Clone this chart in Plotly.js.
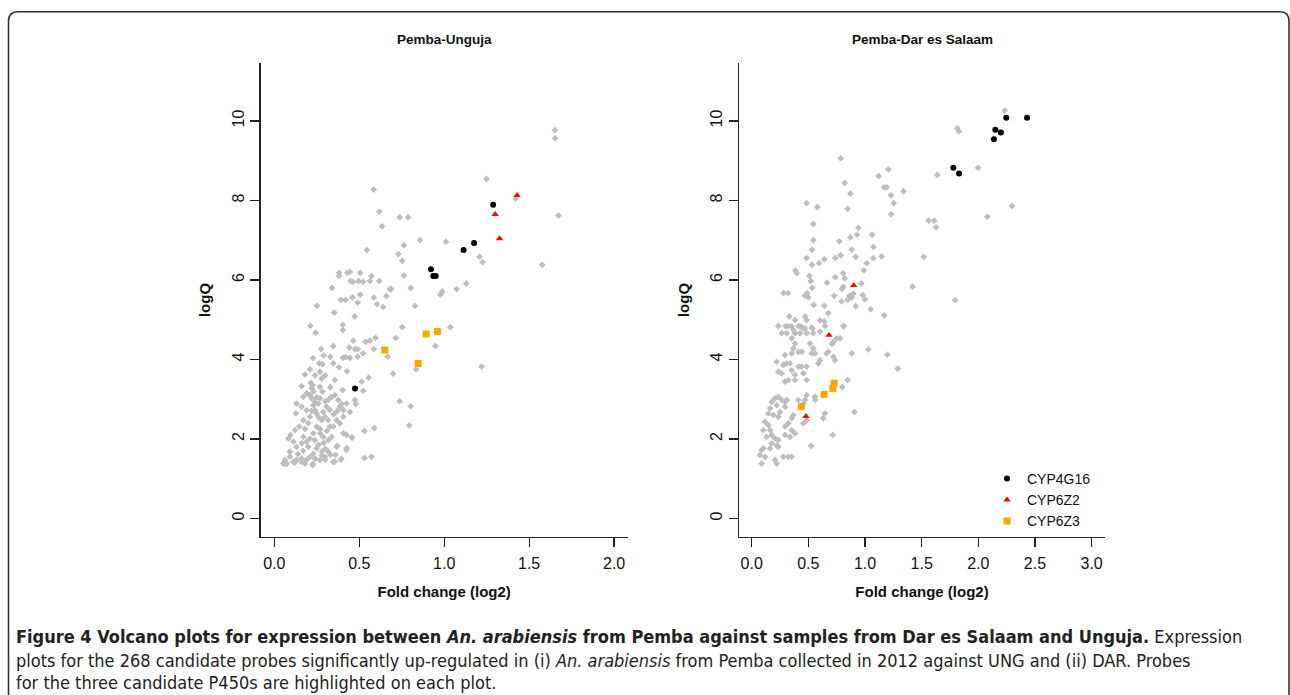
<!DOCTYPE html>
<html><head><meta charset="utf-8">
<script src="https://cdn.plot.ly/plotly-3.0.1.min.js"></script>
<style>html,body{margin:0;padding:0;background:#fff;}#chart{width:1290px;height:695px;}</style>
</head><body><div id="chart"></div>
<script>
// ---------- Panel 1: Pemba-Unguja ----------
const unguGrayX = [1.651,1.653,1.249,0.585,0.618,0.634,0.738,0.787,1.673,0.857,1.010,1.420,0.545,0.730,0.763,0.753,1.208,1.226,1.577,0.763,
0.381,0.381,0.430,0.445,0.506,0.572,0.449,0.463,0.496,0.522,0.563,0.618,0.339,0.803,0.681,0.688,1.073,1.130,0.989,0.977,
0.506,0.461,0.586,0.659,0.393,0.420,0.491,0.605,0.641,0.828,0.251,0.353,0.473,
0.212,0.243,0.404,0.404,0.753,1.036,0.948,0.714,0.596,0.563,0.537,0.465,0.347,0.442,0.475,0.491,0.275,0.586,0.667,0.330,0.228,0.404,0.420,0.491,0.523,
0.835,0.699,1.220,0.428,0.555,0.514,0.524,0.738,0.802,0.794,0.588,0.531,0.572,0.531,0.459,0.426,0.371,0.356,0.395,0.226,0.065,
0.265,0.284,0.347,0.445,0.269,0.279,0.357,0.180,0.161,
0.214,0.226,0.220,0.230,0.210,0.220,0.239,0.230,0.239,0.249,
0.269,0.284,0.269,0.259,0.318,0.337,0.357,0.376,0.396,0.386,0.406,0.425,0.445,0.475,0.480,0.402,
0.131,0.127,0.171,0.161,0.190,0.210,0.171,0.147,0.122,0.096,0.083,0.112,0.131,0.092,0.063,0.053,
0.279,0.298,0.318,0.327,0.249,0.269,0.230,0.210,0.171,0.161,0.190,0.239,0.288,0.318,0.337,
0.367,0.406,0.425,0.455,0.249,0.279,0.230,0.210,0.190,0.161,0.131,0.112,0.092,0.073,
0.298,0.269,0.318,0.226,0.347,0.392,0.425,0.367,0.386,0.406,0.347,0.327,0.308,0.288,
0.140,0.170,0.200,0.260,0.290,0.310,0.350,0.370,0.300,0.330,0.250,0.200,0.180,0.270,0.300,0.330,0.120,0.160,0.180,0.240,0.280,0.300,0.360,0.220,0.260,0.190,0.240,0.210,0.300,0.380,0.290];
const unguGrayY = [9.77,9.56,8.54,8.27,7.72,7.35,7.58,7.58,7.62,7.00,6.96,8.05,6.75,6.65,6.87,6.48,6.58,6.45,6.38,6.11,
6.18,6.10,6.18,6.20,6.18,6.10,5.97,5.95,5.97,5.95,5.97,5.97,5.80,5.80,5.77,5.77,5.77,5.91,5.71,5.63,
5.63,5.56,5.56,5.59,5.50,5.50,5.43,5.39,5.32,5.35,5.35,5.18,5.08,
4.85,4.67,4.87,4.74,4.81,4.81,4.34,4.54,4.54,4.47,4.44,4.47,4.34,4.30,4.26,4.26,4.26,4.26,4.07,4.07,4.03,4.04,4.06,4.07,4.15,
3.75,3.64,3.82,3.70,3.54,3.44,3.21,2.95,2.82,2.34,2.27,2.20,1.55,1.52,2.03,1.77,1.83,1.43,1.50,1.37,1.37,
3.90,3.88,3.90,4.04,3.69,3.52,3.48,3.62,3.33,
3.41,3.35,3.27,3.19,3.10,3.02,2.93,2.85,2.73,2.64,
3.31,3.19,3.02,2.89,2.98,3.06,3.10,2.98,2.88,2.81,2.73,2.89,2.68,2.98,2.88,3.23,
2.89,2.64,3.06,2.81,2.72,2.56,2.47,2.31,2.22,2.10,2.01,1.93,1.80,1.68,1.47,1.38,
2.47,2.56,2.47,2.31,2.31,2.14,2.14,2.01,2.05,1.89,1.93,1.97,2.05,1.97,2.05,
1.80,2.14,2.10,2.04,1.76,1.68,1.63,1.55,1.47,1.51,1.47,1.42,1.55,1.38,
1.55,1.47,1.68,1.34,1.42,1.48,1.72,2.47,2.39,2.56,2.31,2.73,2.81,2.68,
1.62,1.70,1.80,1.85,1.90,2.20,2.62,2.70,2.95,3.30,3.05,2.40,2.25,2.25,1.75,1.60,1.40,1.42,1.38,1.50,1.58,1.48,1.60,2.70,2.55,3.15,3.60,3.75,3.60,3.80,4.10];
const unguCYP4G16X = [1.288,1.176,1.114,0.922,0.936,0.950,0.475];
const unguCYP4G16Y = [7.89,6.93,6.75,6.27,6.10,6.10,3.27];
const unguCYP6Z2X = [1.429,1.300,1.326];
const unguCYP6Z2Y = [8.13,7.65,7.04];
const unguCYP6Z3X = [0.651,0.894,0.960,0.847];
const unguCYP6Z3Y = [4.24,4.64,4.70,3.90];

// ---------- Panel 2: Pemba-Dar es Salaam ----------
const darGrayX = [2.233,1.815,1.830,1.997,1.638,2.297,2.080,1.562,1.612,1.627,1.518,1.421,1.795,
0.785,0.821,0.871,0.847,1.121,1.206,1.168,1.191,1.230,1.253,1.230,1.339,
0.485,0.579,0.544,0.544,0.532,0.485,0.532,0.594,0.641,0.738,0.785,0.773,0.871,0.930,0.942,0.883,0.918,
1.062,1.074,1.074,1.015,0.991,1.147,
0.385,0.397,0.509,0.521,0.665,0.738,0.808,0.821,0.808,0.797,
0.794,0.847,0.882,0.897,0.862,0.980,1.000,0.968,1.050,1.171,0.918,0.727,0.641,0.676,0.547,
0.470,0.500,0.490,0.535,0.282,0.320,
0.332,0.382,0.427,0.471,0.485,0.235,0.300,0.353,0.471,0.538,0.603,0.641,0.809,
0.323,0.368,0.412,0.456,0.529,0.603,0.647,0.812,
0.265,0.309,0.382,0.427,0.485,0.544,
0.353,0.382,0.368,0.412,0.441,0.353,0.515,0.544,0.529,0.559,
0.720,0.750,0.780,0.710,0.676,0.662,0.882,1.030,1.197,1.289,
0.294,0.220,0.235,0.265,0.279,0.309,0.338,0.353,0.382,0.412,0.441,0.485,0.456,0.382,0.323,0.485,0.294,
0.588,0.603,0.721,0.735,0.847,0.800,0.559,0.559,0.485,0.471,0.412,0.456,
0.176,0.206,0.235,0.265,0.294,0.221,0.162,0.147,0.191,0.235,0.250,0.294,0.309,
0.368,0.353,0.323,0.294,0.353,0.382,0.338,0.294,
0.118,0.147,0.162,0.103,0.176,0.206,0.132,0.235,0.176,0.221,0.235,0.162,0.103,0.088,0.073,0.118,0.088,0.221,0.206,0.279,0.323,0.353,
0.456,0.485,0.647,0.632,0.715,0.524,0.906];
const darGrayY = [10.26,9.81,9.74,8.82,8.64,7.86,7.59,7.49,7.49,7.32,6.58,5.83,5.49,
9.06,8.44,8.17,7.79,8.61,8.78,8.33,8.33,8.13,7.93,7.65,8.23,
7.93,7.83,7.41,7.00,6.76,6.55,6.38,6.42,6.52,6.55,6.62,6.97,7.07,7.14,7.31,6.76,6.58,
7.14,6.83,6.55,6.42,6.24,6.59,
6.24,6.17,6.10,5.97,5.93,6.07,6.17,6.04,5.83,5.77,
5.46,5.50,5.56,5.65,5.60,5.62,5.51,5.91,5.26,5.11,5.34,5.60,5.35,5.16,5.37,
5.61,5.56,5.67,5.80,5.67,5.67,
5.08,4.99,4.84,5.08,4.99,4.84,4.84,4.83,4.78,4.78,4.98,4.95,4.84,
4.84,4.74,4.84,4.78,4.80,4.70,4.84,4.84,
4.66,4.66,4.66,4.66,4.66,4.66,
4.53,4.40,4.28,4.19,4.19,4.15,4.40,4.28,4.15,4.15,
4.44,4.53,4.53,4.39,4.19,4.15,4.15,4.25,4.12,3.77,
4.11,3.94,3.69,3.65,3.86,3.90,3.90,3.73,3.61,3.82,3.82,3.82,3.65,3.48,3.48,3.48,3.44,
3.90,3.98,4.07,3.98,3.48,3.30,3.06,2.98,3.10,2.98,2.98,2.89,
2.93,3.02,3.06,2.98,2.93,2.85,2.77,2.64,2.60,2.56,2.68,2.81,2.98,
2.60,2.52,2.39,2.31,2.22,2.14,2.05,2.10,
2.43,2.35,2.22,2.22,2.10,2.01,2.05,1.97,1.89,1.84,1.80,1.76,1.76,1.72,1.59,1.55,1.38,1.38,1.47,1.55,1.55,1.55,
2.39,2.47,2.64,2.52,2.10,1.82,2.68];
const darCYP4G16X = [2.247,2.430,2.150,2.199,2.138,1.780,1.830];
const darCYP4G16Y = [10.08,10.08,9.78,9.71,9.54,8.82,8.68];
const darCYP6Z2X = [0.900,0.682,0.479];
const darCYP6Z2Y = [5.86,4.61,2.57];
const darCYP6Z3X = [0.438,0.639,0.716,0.728];
const darCYP6Z3Y = [2.81,3.12,3.27,3.40];

const panelTitles = ['Pemba-Unguja', 'Pemba-Dar es Salaam'];
const xTitle = 'Fold change (log2)';
const yTitle = 'logQ';
const seriesNames = ['CYP4G16', 'CYP6Z2', 'CYP6Z3'];

// ---------- styling ----------
const W = 1290, H = 695;
const PX = p => p / W, PY = p => 1 - p / H;
const FONT = 'Liberation Sans, Arial, Helvetica, sans-serif';
const GRAY = '#bebebe', BLK = '#000000', RED = '#ff0000', ORG = '#ffa500';
const grayM = {symbol: 'diamond', size: 5.2, color: GRAY};
const blkM = {symbol: 'circle', size: 6, color: BLK};
const redM = {symbol: 'triangle-up', size: 6.5, color: RED};
const orgM = {symbol: 'square', size: 7, color: ORG};

function tr(x, y, xa, ya, marker, name, showlegend) {
  return {type: 'scatter', mode: 'markers', x: x, y: y, xaxis: xa, yaxis: ya,
          marker: marker, name: name, legendgroup: name, showlegend: showlegend, hoverinfo: 'x+y'};
}
const traces = [
  tr(unguGrayX, unguGrayY, 'x', 'y', grayM, 'other', false),
  tr(unguCYP4G16X, unguCYP4G16Y, 'x', 'y', blkM, seriesNames[0], false),
  tr(unguCYP6Z2X, unguCYP6Z2Y, 'x', 'y', redM, seriesNames[1], false),
  tr(unguCYP6Z3X, unguCYP6Z3Y, 'x', 'y', orgM, seriesNames[2], false),
  tr(darGrayX, darGrayY, 'x2', 'y2', grayM, 'other', false),
  tr(darCYP4G16X, darCYP4G16Y, 'x2', 'y2', blkM, seriesNames[0], true),
  tr(darCYP6Z2X, darCYP6Z2Y, 'x2', 'y2', redM, seriesNames[1], true),
  tr(darCYP6Z3X, darCYP6Z3Y, 'x2', 'y2', orgM, seriesNames[2], true)
];

const axCommon = {showline: true, linecolor: '#222', linewidth: 1.4, ticks: 'outside', ticklen: 9,
  tickwidth: 1.3, tickcolor: '#222', showgrid: false, zeroline: false,
  tickfont: {family: FONT, size: 16, color: '#111'}};
function xAx(domain, range, yref) {
  return Object.assign({}, axCommon, {domain: domain, range: range, anchor: yref, tick0: 0, dtick: 0.5,
    tickformat: '.1f', ticklabelstandoff: 3,
    title: {text: '<b>' + xTitle + '</b>', font: {family: FONT, size: 15, color: '#111'}, standoff: 15}});
}
function yAx(xref) {
  return Object.assign({}, axCommon, {domain: [PY(536.7), PY(63.3)], range: [-0.46, 11.45], anchor: xref,
    tick0: 0, dtick: 2, tickangle: -90,
    title: {text: '<b>' + yTitle + '</b>', font: {family: FONT, size: 15, color: '#111'}, standoff: 15}});
}

const capFont = {family: 'Liberation Sans Narrow, DejaVu Sans Condensed, Open Sans, sans-serif', size: 18, color: '#222'};
const annotations = [
  {text: '<b>' + panelTitles[0] + '</b>', x: PX(444.2), y: PY(40), xanchor: 'center', yanchor: 'middle', xref: 'paper', yref: 'paper', showarrow: false,
   font: {family: FONT, size: 13.5, color: '#111'}},
  {text: '<b>' + panelTitles[1] + '</b>', x: PX(922), y: PY(40), xanchor: 'center', yanchor: 'middle', xref: 'paper', yref: 'paper', showarrow: false,
   font: {family: FONT, size: 13.5, color: '#111'}},
  {text: '<b>Figure 4 Volcano plots for expression between <i>An. arabiensis</i> from Pemba against samples from Dar es Salaam and Unguja.</b> Expression',
   x: PX(14), y: PY(636), xanchor: 'left', yanchor: 'middle', xref: 'paper', yref: 'paper', showarrow: false, font: capFont},
  {text: 'plots for the 268 candidate probes significantly up-regulated in (i) <i>An. arabiensis</i> from Pemba collected in 2012 against UNG and (ii) DAR. Probes',
   x: PX(14), y: PY(660), xanchor: 'left', yanchor: 'middle', xref: 'paper', yref: 'paper', showarrow: false, font: capFont},
  {text: 'for the three candidate P450s are highlighted on each plot.',
   x: PX(14), y: PY(682), xanchor: 'left', yanchor: 'middle', xref: 'paper', yref: 'paper', showarrow: false, font: capFont}
];

const border = 'M ' + PX(8.5) + ',' + PY(700) + ' L ' + PX(8.5) + ',' + PY(21) +
  ' Q ' + PX(8.5) + ',' + PY(11.7) + ' ' + PX(18) + ',' + PY(11.7) +
  ' L ' + PX(1280) + ',' + PY(11.7) + ' Q ' + PX(1289) + ',' + PY(11.7) + ' ' + PX(1289) + ',' + PY(21) +
  ' L ' + PX(1289) + ',' + PY(700);

const layout = {
  width: W, height: H, margin: {l: 0, r: 0, t: 0, b: 0},
  paper_bgcolor: '#fff', plot_bgcolor: '#fff',
  font: {family: FONT, color: '#111'},
  xaxis: xAx([PX(260.7), PX(627.7)], [-0.08, 2.08], 'y'),
  yaxis: yAx('x'),
  xaxis2: xAx([PX(739), PX(1105)], [-0.112, 3.118], 'y2'),
  yaxis2: yAx('x2'),
  showlegend: true,
  legend: {x: PX(987), y: PY(463), xanchor: 'left', yanchor: 'top', bgcolor: 'rgba(0,0,0,0)',
    font: {family: FONT, size: 14, color: '#111'}, tracegroupgap: 0, itemwidth: 30},
  annotations: annotations,
  shapes: [{type: 'path', xref: 'paper', yref: 'paper', path: border, line: {color: '#333', width: 1.6}}]
};
Plotly.newPlot('chart', traces, layout, {displayModeBar: false, staticPlot: true});
</script></body></html>
